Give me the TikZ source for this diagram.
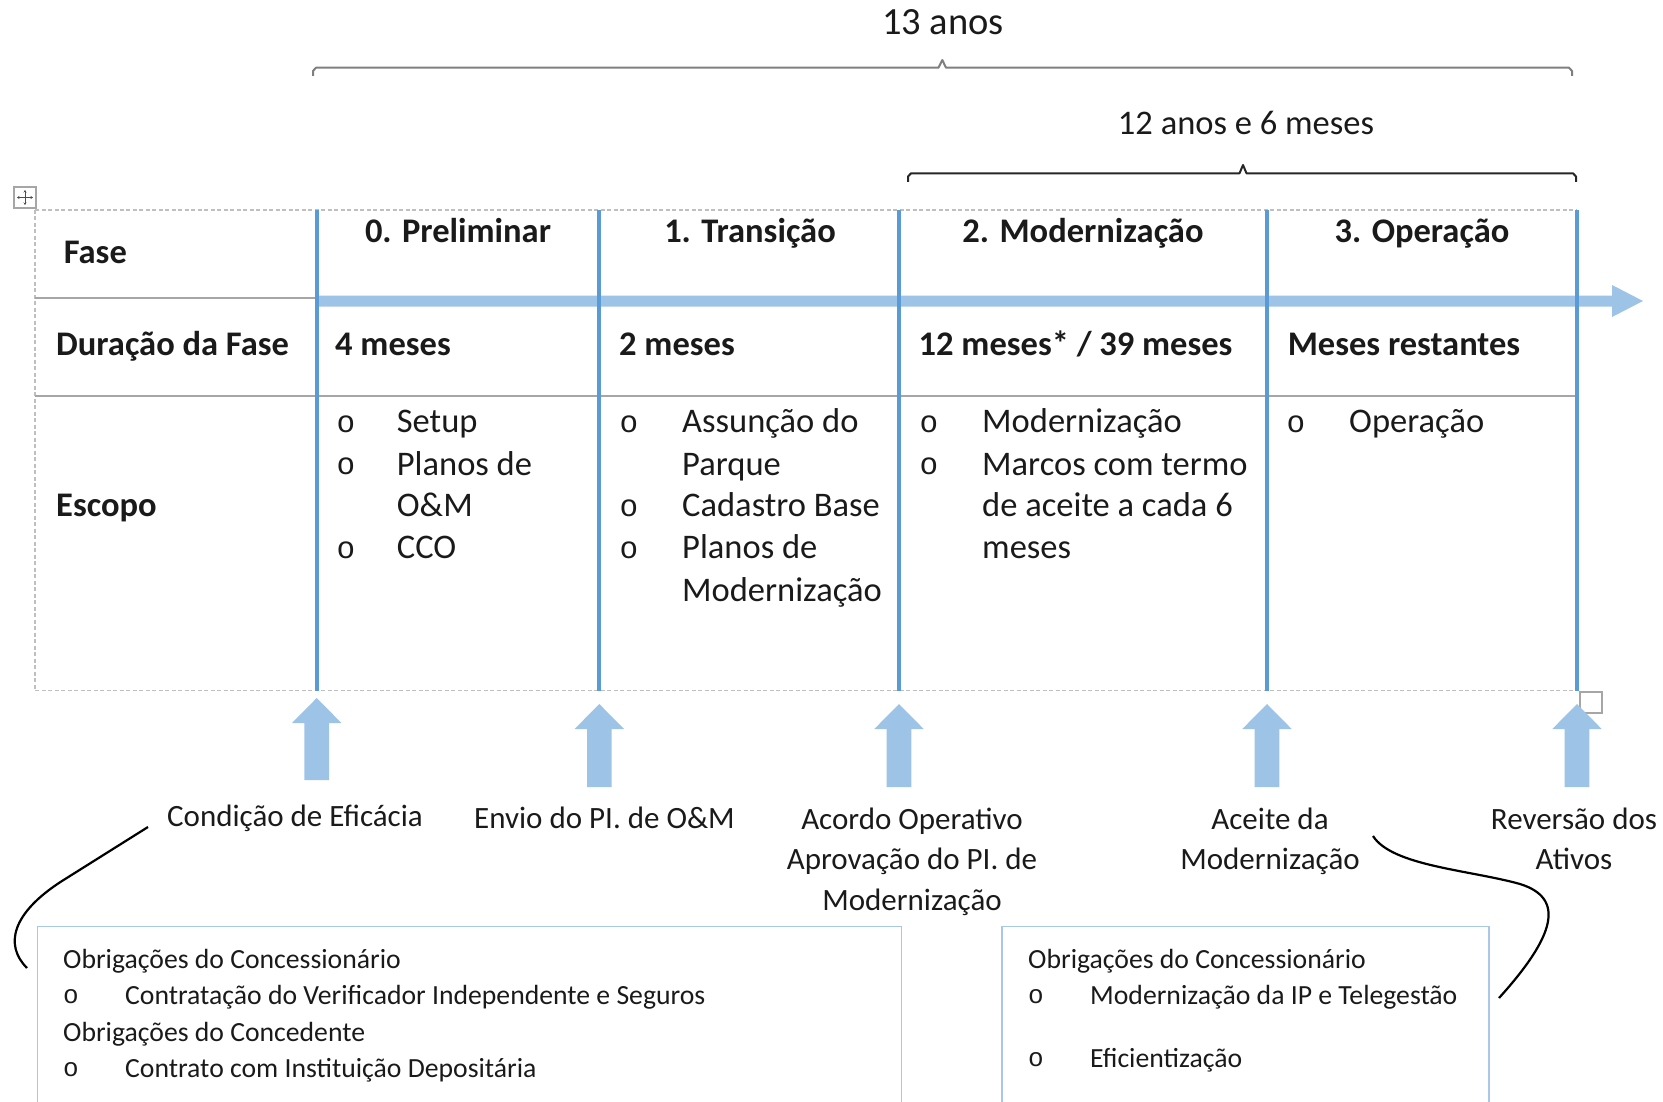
\documentclass[tikz,border=0pt]{standalone}
\usepackage{fontspec}
\setmainfont{Carlito}
\newfontfamily\bulletfont{Liberation Mono}
\usetikzlibrary{arrows.meta}
\definecolor{lineblue}{HTML}{5B9BD5}
\definecolor{arrowblue}{HTML}{9DC3E6}
\definecolor{boxblue}{HTML}{A9C8E8}
\definecolor{gridgray}{HTML}{A6A6A6}
\definecolor{dashgray}{HTML}{BFBFBF}
\definecolor{bracegray}{HTML}{7F7F7F}
\definecolor{txtblack}{HTML}{1A1A1A}
\tikzset{
  txt/.style={inner sep=0pt, text=txtblack, font=\fontsize{31}{42}\selectfont, text height=20pt, text depth=0pt},
  ttxt/.style={inner sep=0pt, text=txtblack, font=\fontsize{34.5}{42}\selectfont, text height=23.4pt, text depth=0pt},
  ttxtl/.style={ttxt, anchor=west},
  hdr/.style={ttxt, font=\fontsize{34.5}{42}\selectfont\bfseries},
  hdrl/.style={hdr, anchor=west},
  bul/.style={inner sep=0pt, text=txtblack, font=\bulletfont\fontsize{31}{34}\selectfont},
  btxt/.style={inner sep=0pt, text=txtblack, font=\fontsize{27.7}{36}\selectfont, text height=20pt, text depth=0pt, anchor=west},
  bbul/.style={inner sep=0pt, text=txtblack, font=\bulletfont\fontsize{26}{30}\selectfont},
  vline/.style={draw=lineblue, line width=4pt},
  rowline/.style={draw=gridgray, line width=2pt},
  dashline/.style={draw=dashgray, line width=1.5pt, dash pattern=on 4pt off 2.5pt},
  upblue/.style={fill=arrowblue, draw=none},
  obox/.style={draw=boxblue, line width=1.5pt},
  curve/.style={draw=black, line width=2.2pt}
}
\newcommand\upArrow[3]{%
  \fill[upblue] (#1,#2) -- ({#1+24.7},{#2+25}) -- ({#1+12.3},{#2+25}) -- ({#1+12.3},#3)
    -- ({#1-12.3},#3) -- ({#1-12.3},{#2+25}) -- ({#1-24.7},{#2+25}) -- cycle;}
\begin{document}
\begin{tikzpicture}[x=1pt,y=-1pt]
\useasboundingbox (0,0) rectangle (1663,1102);

% top labels and braces
\node[inner sep=0pt, text=txtblack, font=\fontsize{38.5}{42}\selectfont, text height=22pt, text depth=0pt] (t13) at (943,24) {13 anos};
\draw[draw=bracegray, line width=2pt, line join=round]
  (313,76) -- (313,71) -- (316,67.7) -- (938.5,67.7) -- (942.3,60) -- (946,67.7) -- (1569,67.7) -- (1572,71) -- (1572,76);
\node[ttxt] (t12) at (1246,123) {12 anos e 6 meses};
\draw[draw=black!85, line width=2pt, line join=round]
  (908,182) -- (908,176.5) -- (911,173.3) -- (1239.5,173.3) -- (1243,165) -- (1246.5,173.3) -- (1573,173.3) -- (1576,176.5) -- (1576,182);

% table move handle
\draw[draw=gridgray, line width=1.2pt, fill=white] (14,187) rectangle (36,208);
\draw[draw=black!70, line width=1pt, -{Stealth[length=2.5pt,width=3pt]}] (25,197.5) -- (25,190);
\draw[draw=black!70, line width=1pt, -{Stealth[length=2.5pt,width=3pt]}] (25,197.5) -- (25,205);
\draw[draw=black!70, line width=1pt, -{Stealth[length=2.5pt,width=3pt]}] (25,197.5) -- (17,197.5);
\draw[draw=black!70, line width=1pt, -{Stealth[length=2.5pt,width=3pt]}] (25,197.5) -- (33,197.5);

% table frame
\draw[dashline] (35,210) -- (1577,210);
\draw[dashline] (35,690.7) -- (1577,690.7);
\draw[dashline] (35,210) -- (35,690.7);
\draw[rowline] (35,297.7) -- (1577,297.7);
\draw[rowline] (35,395.7) -- (1577,395.7);

% horizontal timeline arrow
\fill[upblue] (316,295.5) -- (1612,295.5) -- (1612,285) -- (1643,301) -- (1612,317) -- (1612,306.5) -- (316,306.5) -- cycle;

% vertical phase lines
\foreach \x in {316.7,599.3,899,1267,1577} {\draw[vline] (\x,210) -- (\x,690.7);}

% resize handle
\draw[draw=gridgray, line width=1.5pt, fill=white] (1580,692) rectangle (1602,713);

% header row
\node[hdrl] (fase) at (63.6,252) {Fase};
\node[hdr] (h0) at (458,231) {0. Preliminar};
\node[hdr] (h1) at (750,231) {1. Transição};
\node[hdr] (h2) at (1083,231) {2. Modernização};
\node[hdr] (h3) at (1422,231) {3. Operação};

% duration row
\node[hdrl] (dur) at (56,343.6) {Duração da Fase};
\node[hdrl] (d0) at (335,343.6) {4 meses};
\node[hdrl] (d1) at (619,343.6) {2 meses};
\node[hdrl] (d2) at (918.5,343.6) {12 meses* / 39 meses};
\node[hdrl] (d3) at (1287.6,343.6) {Meses restantes};

% scope row
\node[hdrl] (esc) at (56,505) {Escopo};
% col 0
\node[bul] (b01) at (345.8,424) {o};
\node[ttxtl] (s01) at (396.7,421) {Setup};
\node[bul] (b02) at (345.8,466.5) {o};
\node[ttxtl] (s02) at (396.7,463.5) {Planos de};
\node[ttxtl] (s03) at (396.7,505) {O\&M};
\node[bul] (b04) at (345.8,550) {o};
\node[ttxtl] (s04) at (396.7,547) {CCO};
% col 1
\node[bul] (b11) at (629,424) {o};
\node[ttxtl] (s11) at (682,421) {Assunção do};
\node[ttxtl] (s12) at (682,463.5) {Parque};
\node[bul] (b13) at (629,508) {o};
\node[ttxtl] (s13) at (682,505) {Cadastro Base};
\node[bul] (b14) at (629,550) {o};
\node[ttxtl] (s14) at (682,547) {Planos de};
\node[ttxtl] (s15) at (682,590) {Modernização};
% col 2
\node[bul] (b21) at (929,424) {o};
\node[ttxtl] (s21) at (982,421) {Modernização};
\node[bul] (b22) at (929,466.5) {o};
\node[ttxtl] (s22) at (982,463.5) {Marcos com termo};
\node[ttxtl] (s23) at (982,505) {de aceite a cada 6};
\node[ttxtl] (s24) at (982,547) {meses};
% col 3
\node[bul] (b31) at (1296,424) {o};
\node[ttxtl] (s31) at (1349,421) {Operação};

% milestone arrows
\upArrow{316.7}{698}{780}
\upArrow{599.3}{704}{787}
\upArrow{899}{704}{787}
\upArrow{1267}{704}{787}
\upArrow{1577}{704}{787}

% milestone labels
\node[txt] (m0) at (295,816) {Condição de Eficácia};
\node[txt] (m1) at (604.5,818) {Envio do PI. de O\&M};
\node[txt] (m2a) at (912,819) {Acordo Operativo};
\node[txt] (m2b) at (912,859) {Aprovação do PI. de};
\node[txt] (m2c) at (912,900) {Modernização};
\node[txt] (m3a) at (1270,819) {Aceite da};
\node[txt] (m3b) at (1270,859) {Modernização};
\node[txt] (m4a) at (1574,819) {Reversão dos};
\node[txt] (m4b) at (1574,859) {Ativos};

% obligation boxes
\draw[obox] (37.7,1110) -- (37.7,926.7) -- (901.5,926.7) -- (901.5,1110);
\draw[obox] (1002,1110) -- (1002,926.7) -- (1489,926.7) -- (1489,1110);

\node[btxt] (l1) at (63,958) {Obrigações do Concessionário};
\node[bbul] (lb1) at (71,997) {o};
\node[btxt] (l2) at (125,994) {Contratação do Verificador Independente e Seguros};
\node[btxt] (l3) at (63,1031) {Obrigações do Concedente};
\node[bbul] (lb2) at (71,1070) {o};
\node[btxt] (l4) at (125,1067) {Contrato com Instituição Depositária};

\node[btxt] (r1) at (1028,958) {Obrigações do Concessionário};
\node[bbul] (rb1) at (1036,997) {o};
\node[btxt] (r2) at (1090,994) {Modernização da IP e Telegestão};
\node[bbul] (rb2) at (1036,1060) {o};
\node[btxt] (r3) at (1090,1057) {Eficientização};

% connector curves
\coordinate (cl0) at (148,827);
\coordinate (cl1) at (27,968);
\draw[curve] (cl0) -- (62,881) .. controls (12,913) and (4,945) .. (cl1);
\coordinate (cr0) at (1373,836);
\coordinate (cr1) at (1499,998);
\draw[curve] (cr0) .. controls (1392,866) and (1470,870) .. (1520,884) .. controls (1565,898) and (1556,935) .. (cr1);
\end{tikzpicture}
\end{document}
